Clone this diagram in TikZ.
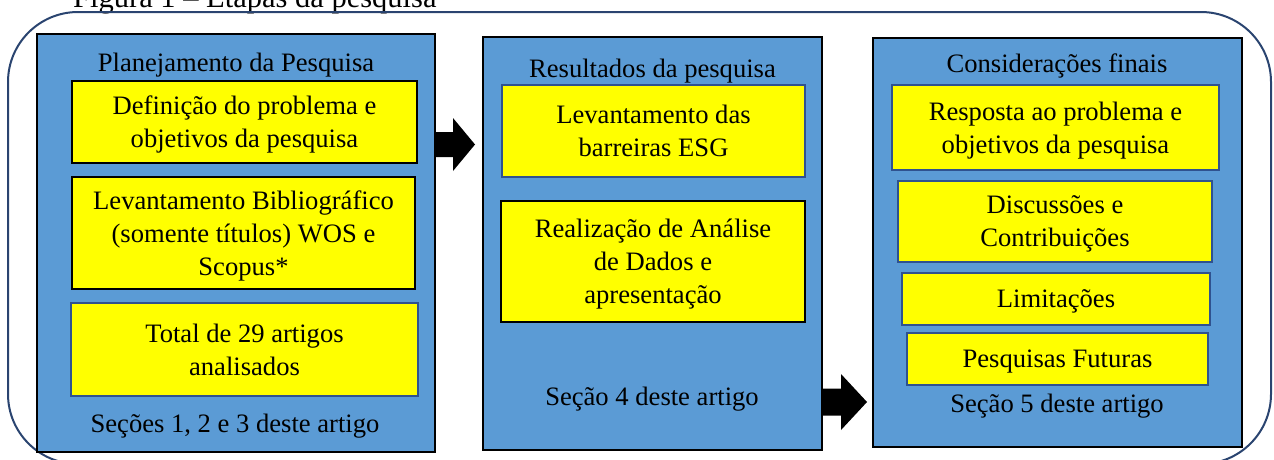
\documentclass[tikz,border=0pt]{standalone}
\usepackage{fontspec}
\setmainfont{Liberation Serif}
\usetikzlibrary{calc}
\definecolor{panelblue}{HTML}{5B9BD5}
\definecolor{boxyellow}{HTML}{FFFF00}
\definecolor{edgeblue}{HTML}{2F528F}
\definecolor{framenavy}{HTML}{2A4470}
\tikzset{
  panel/.style={draw=black, line width=2pt, fill=panelblue, rectangle, inner sep=0pt},
  ybox/.style={draw=black, line width=1.8pt, fill=boxyellow, rectangle, inner sep=0pt, align=center,
    text depth=-2pt, font={\fontsize{26.6}{33}\selectfont}},
  ybluebox/.style={ybox, draw=edgeblue, line width=2.4pt},
  label/.style={inner sep=0pt, anchor=base, font={\fontsize{26.6}{33}\selectfont}},
  blockarrow/.style={fill=black, draw=none}
}
\begin{document}
\begin{tikzpicture}[x=1pt, y=-1pt]
\useasboundingbox (0,0) rectangle (1274,459);
% caption (cut at top, as in the reference)
\node[label, anchor=base west, font={\fontsize{30.5}{36}\selectfont}] (cap) at (73,7) {Figura 1 – Etapas da pesquisa};
% outer rounded frame
\draw[framenavy, line width=2pt, rounded corners=70pt] (8,12) rectangle (1271,464);
% panels
\node[panel, minimum width=398pt, minimum height=418pt] (p1) at (236,243) {};
\node[panel, minimum width=339pt, minimum height=413pt] (p2) at (652.5,243.5) {};
\node[panel, minimum width=369pt, minimum height=409pt] (p3) at (1057.5,242.5) {};
% panel titles
\node[label] (t1) at (236,71) {Planejamento da Pesquisa};
\node[label] (t2) at (652.5,77) {Resultados da pesquisa};
\node[label] (t3) at (1057,72) {Considerações finais};
% footers
\node[label] (f1) at (235,432) {Seções 1, 2 e 3 deste artigo};
\node[label] (f2) at (652,405) {Seção 4 deste artigo};
\node[label] (f3) at (1057,412) {Seção 5 deste artigo};
% yellow boxes panel 1
\node[ybox, minimum width=345pt, minimum height=82pt] (y1) at (244.5,122) {Definição do problema e\\objetivos da pesquisa};
\node[ybox, minimum width=343pt, minimum height=112pt] (y2) at (243.5,233) {Levantamento Bibliográfico\\(somente títulos) WOS e\\Scopus*};
\node[ybluebox, minimum width=347pt, minimum height=93pt] (y3) at (244.5,349.5) {Total de 29 artigos\\analisados};
% panel 2
\node[ybluebox, minimum width=303pt, minimum height=92pt] (y4) at (653.5,131) {Levantamento das\\barreiras ESG};
\node[ybox, minimum width=304pt, minimum height=121pt] (y5) at (653,261.5) {Realização de Análise\\de Dados e\\apresentação};
% panel 3
\node[ybluebox, minimum width=327pt, minimum height=85pt] (y6) at (1055.5,127.5) {Resposta ao problema e\\objetivos da pesquisa};
\node[ybluebox, minimum width=314pt, minimum height=81pt] (y7) at (1055,221.5) {Discussões e\\Contribuições};
\node[ybluebox, minimum width=308pt, minimum height=52pt] (y8) at (1056,299) {Limitações};
\node[ybluebox, minimum width=301pt, minimum height=52pt] (y9) at (1057.5,359) {Pesquisas Futuras};
% block arrows
\coordinate (a1s) at ($(p1.east)+(0,-98.5)$);
\coordinate (a1t) at (475,144.5);
\fill[blockarrow] ($(a1s)+(0,-12.5)$) -- (453,132) -- (453,118) -- (a1t) -- (453,171) -- (453,157) -- ($(a1s)+(0,12.5)$) -- cycle;
\coordinate (a2s) at ($(p2.east)+(0,158.5)$);
\coordinate (a2t) at ($(p3.west)+(-5,159.5)$);
\fill[blockarrow] ($(a2s)+(0,-13.5)$) -- (841,388.5) -- (841,374) -- (a2t) -- (841,430) -- (841,415.5) -- ($(a2s)+(0,13.5)$) -- cycle;
\end{tikzpicture}
\end{document}
